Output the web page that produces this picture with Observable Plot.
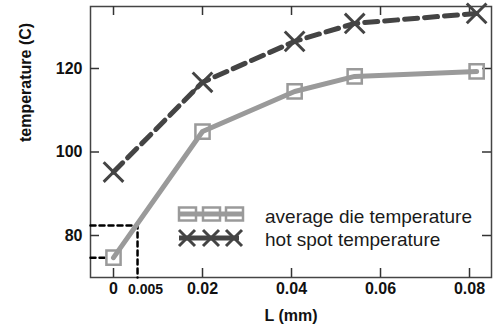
<!DOCTYPE html>
<html>
<head>
<meta charset="utf-8">
<script src="https://cdn.jsdelivr.net/npm/d3@7"></script>
<script src="https://cdn.jsdelivr.net/npm/@observablehq/plot@0.6"></script>
<style>
  html, body { margin: 0; padding: 0; background: #fff; }
  #chart { position: relative; width: 493px; height: 327px; }
  svg { font-family: "Liberation Sans", Arial, sans-serif; }
</style>
</head>
<body>
<div id="chart"></div>
<script>
// ---- data ----
const L = [0, 0.02, 0.0407, 0.0542, 0.0816];
const avgTemp = [74.7, 104.9, 114.5, 118.1, 119.3];
const hotTemp = [95.2, 116.7, 126.5, 130.8, 133.2];
const xTicks = [0, 0.02, 0.04, 0.06, 0.08];
const xTickLabels = ["0", "0.02", "0.04", "0.06", "0.08"];
const yTicks = [80, 100, 120];
const refL = 0.0054;        // marked point on the L axis
const refLLabel = "0.005";
const refTempAtRef = 82.4;  // avg temperature at refL
const refTempAt0 = 74.7;    // avg temperature at L = 0
const seriesNames = ["average die temperature", "hot spot temperature"];
const xLabel = "L (mm)";
const yLabel = "temperature (C)";

const xDomain = [-0.00517, 0.08494];
const yDomain = [69.94, 134.85];

const avgData = L.map((x, i) => ({x, y: avgTemp[i]}));
const hotData = L.map((x, i) => ({x, y: hotTemp[i]}));
const refPath1 = [
  {x: xDomain[0], y: refTempAtRef},
  {x: refL, y: refTempAtRef},
  {x: refL, y: yDomain[0]}
];
const refPath2 = [
  {x: xDomain[0], y: refTempAt0},
  {x: -0.0018, y: refTempAt0}
];

const W = 493, H = 327;
const mL = 90, mR = 2, mT = 6, mB = 50;
const fw = W - mL - mR, fh = H - mT - mB;
const tk = 9;

const gray = "#9a9a9a", dark = "#444";

const plot = Plot.plot({
  width: W, height: H,
  marginLeft: mL, marginRight: mR, marginTop: mT, marginBottom: mB,
  x: {domain: xDomain},
  y: {domain: yDomain},
  style: {fontFamily: "'Liberation Sans', Arial, sans-serif", background: "#fff"},
  marks: [
    Plot.frame({stroke: "#444", strokeWidth: 1.5}),
    // inward ticks
    Plot.tickX(xTicks, {x: d => d, insetTop: fh - tk, stroke: "#333", strokeWidth: 1.5}),
    Plot.tickX(xTicks, {x: d => d, insetBottom: fh - tk, stroke: "#333", strokeWidth: 1.5}),
    Plot.tickY(yTicks, {y: d => d, insetRight: fw - tk, stroke: "#333", strokeWidth: 1.5}),
    Plot.tickY(yTicks, {y: d => d, insetLeft: fw - tk, stroke: "#333", strokeWidth: 1.5}),
    Plot.axisX(xTicks, {tickSize: 0, tickPadding: 5, fontSize: 16, fontWeight: "bold", fill: "#111", label: null,
      tickFormat: d => xTickLabels[xTicks.indexOf(d)]}),
    Plot.axisY(yTicks, {tickSize: 0, tickPadding: 8, fontSize: 16, fontWeight: "bold", fill: "#111", label: null}),
    Plot.text([refLLabel], {x: refL, frameAnchor: "bottom", dy: 12, dx: 8, textAnchor: "middle", lineAnchor: "middle", fontSize: 14, fontWeight: "bold", fill: "#111"}),
    Plot.text([xLabel], {frameAnchor: "bottom", dy: 38, lineAnchor: "middle", fontSize: 16, fontWeight: "bold", fill: "#111"}),
    Plot.text([yLabel], {frameAnchor: "left", dx: -65, rotate: -90, lineAnchor: "middle", fontSize: 16, fontWeight: "bold", fill: "#111"}),
    // reference dashed lines
    Plot.line(refPath1, {x: "x", y: "y", stroke: "#000", strokeWidth: 2.5, strokeDasharray: "5,4"}),
    Plot.line(refPath2, {x: "x", y: "y", stroke: "#000", strokeWidth: 2.5, strokeDasharray: "5,4"}),
    // series
    Plot.line(hotData, {x: "x", y: "y", stroke: dark, strokeWidth: 5, strokeDasharray: "13,7"}),
    Plot.line(avgData, {x: "x", y: "y", stroke: gray, strokeWidth: 5}),
    Plot.dot(avgData, {x: "x", y: "y", symbol: "square", r: 8, stroke: gray, strokeWidth: 2.5, fill: "none"}),
    Plot.dot(hotData, {x: "x", y: "y", symbol: "times", r: 9, stroke: dark, strokeWidth: 3})
  ]
});
document.getElementById("chart").appendChild(plot);

// legend inside the plot area
const svg = d3.select(plot);
const lg = svg.append("g").attr("transform", "translate(187,214)").attr("text-anchor", "start");
const slots = [0, 24, 47];
// avg
lg.append("line").attr("x1", -8).attr("x2", 56).attr("y1", 0).attr("y2", 0)
  .attr("stroke", gray).attr("stroke-width", 5);
slots.forEach(sx => lg.append("rect").attr("x", sx - 8).attr("y", -6.5).attr("width", 17).attr("height", 13)
  .attr("fill", "none").attr("stroke", gray).attr("stroke-width", 2.5));
// hot
lg.append("line").attr("x1", -8).attr("x2", 52).attr("y1", 24).attr("y2", 24)
  .attr("stroke", dark).attr("stroke-width", 5);
slots.forEach(sx => {
  const s = 8;
  lg.append("path").attr("d", `M${sx - s},${24 - s}L${sx + s},${24 + s}M${sx - s},${24 + s}L${sx + s},${24 - s}`)
    .attr("stroke", dark).attr("stroke-width", 3);
});
lg.append("text").attr("x", 78).attr("y", 3).attr("dy", "0.32em").attr("font-size", 19).attr("fill", "#1a1a1a").attr("text-anchor", "start").text(seriesNames[0]);
lg.append("text").attr("x", 78).attr("y", 26).attr("dy", "0.32em").attr("font-size", 19).attr("fill", "#1a1a1a").attr("text-anchor", "start").text(seriesNames[1]);
</script>
</body>
</html>
